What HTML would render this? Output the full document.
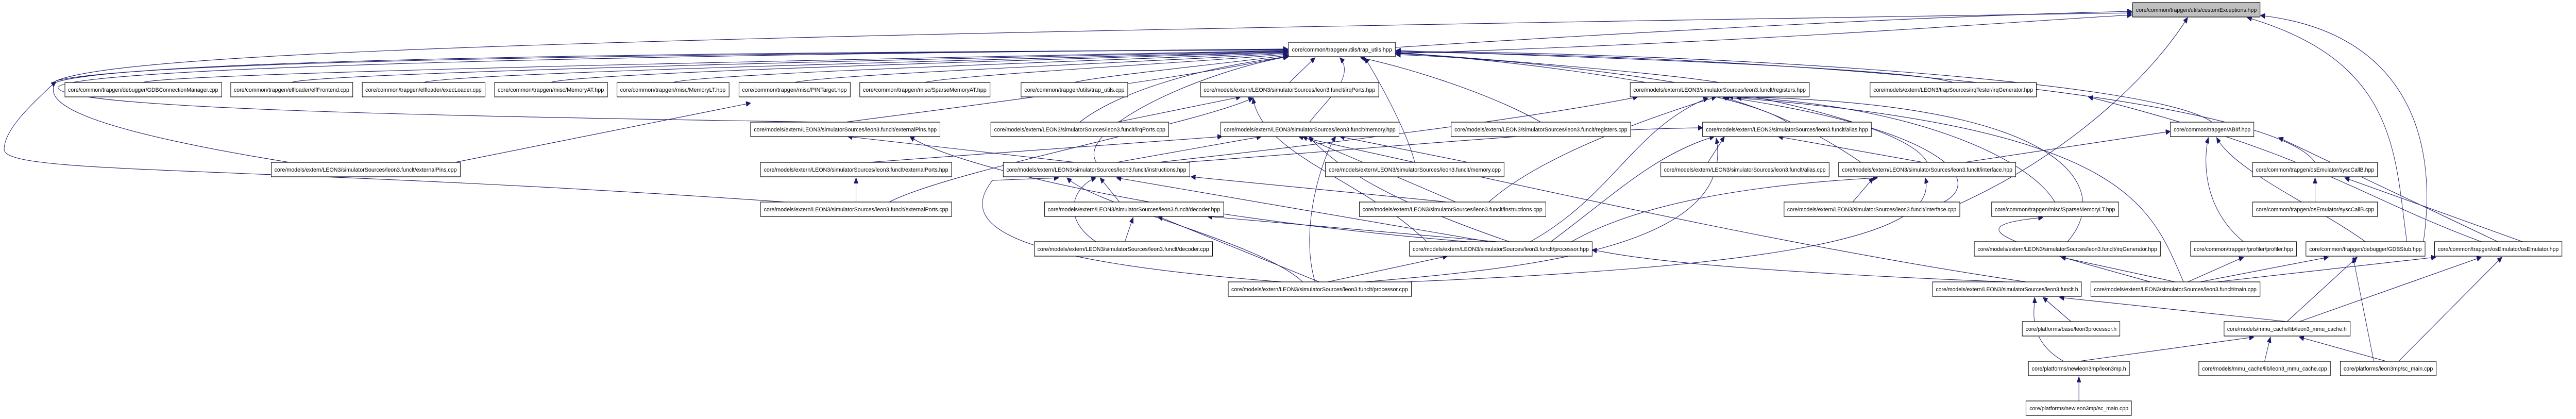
<!DOCTYPE html>
<html><head><meta charset="utf-8"><style>
html,body{margin:0;padding:0;background:#fff;width:100%;height:100%;overflow:hidden;}
svg{display:block;width:100vw;height:100vh;}
.n rect{fill:#fff;stroke:#000;stroke-width:1.2;}
.n text{font-family:"Liberation Sans",sans-serif;font-size:11px;fill:#000;}
.e path{fill:none;stroke:#191970;stroke-width:1.1;}
</style></head><body>
<svg viewBox="0 0 6229 813" preserveAspectRatio="none" xmlns="http://www.w3.org/2000/svg">
<defs>
<marker id="a" markerUnits="userSpaceOnUse" markerWidth="12" markerHeight="10" refX="11" refY="5" orient="auto"><path d="M0,0 L11,5 L0,10 z" fill="#191970" stroke="#191970"/></marker>
</defs>
<g class="e" marker-end="url(#a)">
<path d="M3374,92 C4000,60 4700,30 5155,22"/>
<path d="M135,157 C300,100 1500,70 5155,25"/>
<path d="M3374,104 C4300,80 4900,40 5155,29"/>
<path d="M4739,395 C5000,300 5200,150 5290,34"/>
<path d="M5820,469 C5790,300 5800,120 5434,34"/>
<path d="M5860,469 C5900,250 5800,60 5466,30"/>
<path d="M346,160 C400,140 2400,110 3114,98"/>
<path d="M705,160 C760,140 2500,110 3114,99"/>
<path d="M1024,160 C1100,140 2600,112 3114,100"/>
<path d="M1332,160 C1400,140 2700,112 3114,101"/>
<path d="M1627,160 C1700,142 2800,114 3114,102"/>
<path d="M1921,160 C2000,144 2900,116 3114,103"/>
<path d="M2236,160 C2300,146 2950,118 3114,105"/>
<path d="M2598,160 C2650,148 3000,120 3116,107"/>
<path d="M3118,160 L3180,112"/>
<path d="M4158,160 C4000,140 3600,115 3376,102"/>
<path d="M4723,160 C4600,130 3800,110 3376,98"/>
<path d="M135,157 C300,120 1500,105 3114,96"/>
<path d="M700,315 C200,250 100,200 135,160 C300,110 2000,100 3114,97"/>
<path d="M1900,392 C600,320 10,340 10,290 C10,250 80,200 135,158"/>
<path d="M2000,237 C1000,225 150,210 140,170 C150,140 1000,110 3114,95"/>
<path d="M2044,237 C2200,220 2900,150 3114,108"/>
<path d="M2611,237 C2700,180 2900,130 3116,110"/>
<path d="M2700,237 L3000,188"/>
<path d="M3167,237 C3200,200 3280,150 3240,112"/>
<path d="M3726,237 C3600,180 3400,130 3290,112"/>
<path d="M4321,237 C4200,170 3600,110 3376,104"/>
<path d="M5349,237 C5200,150 4000,100 3376,100"/>
<path d="M2651,315 C2600,250 2900,140 3114,110"/>
<path d="M3421,315 C3400,250 3330,150 3300,112"/>
<path d="M4660,315 C4600,220 3900,120 3376,106"/>
<path d="M5598,315 C5500,200 4500,110 3376,101"/>
<path d="M1100,315 L1815,200"/>
<path d="M2070,392 L2070,345"/>
<path d="M2100,315 L2955,265"/>
<path d="M2600,315 L2050,265"/>
<path d="M2700,315 L3050,265"/>
<path d="M2860,315 C3300,290 3800,250 4117,248"/>
<path d="M2800,315 C3200,280 3700,230 3960,188"/>
<path d="M3550,315 L3240,265"/>
<path d="M4130,315 L4170,265"/>
<path d="M4650,315 L4300,265"/>
<path d="M4750,315 L5248,255"/>
<path d="M4500,315 C4400,260 4300,220 4165,188"/>
<path d="M2707,392 L2660,345"/>
<path d="M3500,392 L2880,343"/>
<path d="M3520,392 L3150,265"/>
<path d="M3600,392 C3700,320 3900,250 4150,188"/>
<path d="M4480,392 L4530,345"/>
<path d="M4700,392 C4800,350 4700,250 4170,188"/>
<path d="M4969,392 C4900,300 4600,200 4180,188"/>
<path d="M5598,392 L5598,345"/>
<path d="M2150,392 C2300,330 2900,240 3030,190"/>
<path d="M2720,469 L2740,422"/>
<path d="M2650,469 C2560,420 2600,360 2650,345"/>
<path d="M3600,469 L2700,345"/>
<path d="M3620,469 L2920,420"/>
<path d="M3650,469 C3400,400 3250,340 3165,265"/>
<path d="M3700,469 C3900,380 3950,250 4130,190"/>
<path d="M3750,469 C3900,380 4000,300 4145,265"/>
<path d="M3800,469 C3950,400 4200,360 4540,345"/>
<path d="M3550,469 C2800,420 2300,320 2200,265"/>
<path d="M3450,469 C3300,350 3050,300 3030,190"/>
<path d="M4999,469 C5100,380 5050,200 4200,188"/>
<path d="M5425,469 C5320,400 5330,300 5340,267"/>
<path d="M5720,469 C5600,400 5400,330 5360,267"/>
<path d="M6040,469 L5510,267"/>
<path d="M6100,469 L5670,345"/>
<path d="M6000,469 C5700,380 5600,300 5050,188"/>
<path d="M3190,547 L2800,420"/>
<path d="M3210,547 L3500,497"/>
<path d="M3150,547 C3050,470 2650,400 2580,345"/>
<path d="M3180,547 C3140,440 3200,300 3230,265"/>
<path d="M3100,547 C2500,510 2300,450 2400,350 L2560,345"/>
<path d="M3300,547 C3700,520 4200,480 4150,268"/>
<path d="M3400,547 C4200,520 4700,470 4655,345"/>
<path d="M4853,547 C4000,520 3900,490 3850,485"/>
<path d="M4900,547 C4500,500 4000,420 3140,265"/>
<path d="M5260,547 L4984,499"/>
<path d="M5290,547 L5425,499"/>
<path d="M5320,547 L5630,499"/>
<path d="M5360,547 L5890,499"/>
<path d="M5200,547 C4900,480 4700,440 4940,422"/>
<path d="M5280,547 C5200,400 5150,250 4200,190"/>
<path d="M5008,624 L4940,577"/>
<path d="M5530,624 L4980,577"/>
<path d="M5530,624 L5700,499"/>
<path d="M5560,624 L6000,499"/>
<path d="M5027,701 L5450,654"/>
<path d="M4990,701 C4900,660 4920,600 4920,577"/>
<path d="M5476,701 L5490,654"/>
<path d="M5770,701 L5560,654"/>
<path d="M5740,701 L5690,499"/>
<path d="M5800,701 L6050,499"/>
<path d="M5027,778 L5027,731"/>
</g>
<g class="n">
<rect x="5157" y="5" width="308" height="28" style="fill:#bfbfbf"/><text x="5311" y="23" text-anchor="middle" textLength="292" lengthAdjust="spacingAndGlyphs">core/common/trapgen/utils/customExceptions.hpp</text>
<rect x="3116" y="82" width="258" height="28"/><text x="3245" y="100" text-anchor="middle" textLength="242" lengthAdjust="spacingAndGlyphs">core/common/trapgen/utils/trap_utils.hpp</text>

<rect x="157" y="160" width="379" height="28"/><text x="346" y="178" text-anchor="middle" textLength="363" lengthAdjust="spacingAndGlyphs">core/common/trapgen/debugger/GDBConnectionManager.cpp</text>
<rect x="558" y="160" width="295" height="28"/><text x="705" y="178" text-anchor="middle" textLength="279" lengthAdjust="spacingAndGlyphs">core/common/trapgen/elfloader/elfFrontend.cpp</text>
<rect x="876" y="160" width="297" height="28"/><text x="1024" y="178" text-anchor="middle" textLength="281" lengthAdjust="spacingAndGlyphs">core/common/trapgen/elfloader/execLoader.cpp</text>
<rect x="1196" y="160" width="273" height="28"/><text x="1332" y="178" text-anchor="middle" textLength="257" lengthAdjust="spacingAndGlyphs">core/common/trapgen/misc/MemoryAT.hpp</text>
<rect x="1492" y="160" width="271" height="28"/><text x="1627" y="178" text-anchor="middle" textLength="255" lengthAdjust="spacingAndGlyphs">core/common/trapgen/misc/MemoryLT.hpp</text>
<rect x="1787" y="160" width="269" height="28"/><text x="1921" y="178" text-anchor="middle" textLength="253" lengthAdjust="spacingAndGlyphs">core/common/trapgen/misc/PINTarget.hpp</text>
<rect x="2079" y="160" width="315" height="28"/><text x="2236" y="178" text-anchor="middle" textLength="299" lengthAdjust="spacingAndGlyphs">core/common/trapgen/misc/SparseMemoryAT.hpp</text>
<rect x="2469" y="160" width="258" height="28"/><text x="2598" y="178" text-anchor="middle" textLength="242" lengthAdjust="spacingAndGlyphs">core/common/trapgen/utils/trap_utils.cpp</text>
<rect x="2903" y="160" width="431" height="28"/><text x="3118" y="178" text-anchor="middle" textLength="415" lengthAdjust="spacingAndGlyphs">core/models/extern/LEON3/simulatorSources/leon3.funclt/irqPorts.hpp</text>
<rect x="3942" y="160" width="433" height="28"/><text x="4158" y="178" text-anchor="middle" textLength="417" lengthAdjust="spacingAndGlyphs">core/models/extern/LEON3/simulatorSources/leon3.funclt/registers.hpp</text>
<rect x="4522" y="160" width="402" height="28"/><text x="4723" y="178" text-anchor="middle" textLength="386" lengthAdjust="spacingAndGlyphs">core/models/extern/LEON3/trapSources/irqTester/irqGenerator.hpp</text>

<rect x="1815" y="237" width="458" height="28"/><text x="2044" y="255" text-anchor="middle" textLength="442" lengthAdjust="spacingAndGlyphs">core/models/extern/LEON3/simulatorSources/leon3.funclt/externalPins.hpp</text>
<rect x="2396" y="237" width="430" height="28"/><text x="2611" y="255" text-anchor="middle" textLength="414" lengthAdjust="spacingAndGlyphs">core/models/extern/LEON3/simulatorSources/leon3.funclt/irqPorts.cpp</text>
<rect x="2952" y="237" width="431" height="28"/><text x="3167" y="255" text-anchor="middle" textLength="415" lengthAdjust="spacingAndGlyphs">core/models/extern/LEON3/simulatorSources/leon3.funclt/memory.hpp</text>
<rect x="3509" y="237" width="434" height="28"/><text x="3726" y="255" text-anchor="middle" textLength="418" lengthAdjust="spacingAndGlyphs">core/models/extern/LEON3/simulatorSources/leon3.funclt/registers.cpp</text>
<rect x="4117" y="237" width="408" height="28"/><text x="4321" y="255" text-anchor="middle" textLength="392" lengthAdjust="spacingAndGlyphs">core/models/extern/LEON3/simulatorSources/leon3.funclt/alias.hpp</text>
<rect x="5248" y="237" width="202" height="28"/><text x="5349" y="255" text-anchor="middle" textLength="186" lengthAdjust="spacingAndGlyphs">core/common/trapgen/ABIIf.hpp</text>

<rect x="656" y="315" width="457" height="28"/><text x="884" y="333" text-anchor="middle" textLength="441" lengthAdjust="spacingAndGlyphs">core/models/extern/LEON3/simulatorSources/leon3.funclt/externalPins.cpp</text>
<rect x="1839" y="315" width="462" height="28"/><text x="2070" y="333" text-anchor="middle" textLength="446" lengthAdjust="spacingAndGlyphs">core/models/extern/LEON3/simulatorSources/leon3.funclt/externalPorts.hpp</text>
<rect x="2426" y="315" width="451" height="28"/><text x="2651" y="333" text-anchor="middle" textLength="435" lengthAdjust="spacingAndGlyphs">core/models/extern/LEON3/simulatorSources/leon3.funclt/instructions.hpp</text>
<rect x="3205" y="315" width="432" height="28"/><text x="3421" y="333" text-anchor="middle" textLength="416" lengthAdjust="spacingAndGlyphs">core/models/extern/LEON3/simulatorSources/leon3.funclt/memory.cpp</text>
<rect x="4016" y="315" width="407" height="28"/><text x="4219" y="333" text-anchor="middle" textLength="391" lengthAdjust="spacingAndGlyphs">core/models/extern/LEON3/simulatorSources/leon3.funclt/alias.cpp</text>
<rect x="4446" y="315" width="428" height="28"/><text x="4660" y="333" text-anchor="middle" textLength="412" lengthAdjust="spacingAndGlyphs">core/models/extern/LEON3/simulatorSources/leon3.funclt/interface.hpp</text>
<rect x="5447" y="315" width="302" height="28"/><text x="5598" y="333" text-anchor="middle" textLength="286" lengthAdjust="spacingAndGlyphs">core/common/trapgen/osEmulator/syscCallB.hpp</text>

<rect x="1839" y="392" width="462" height="28"/><text x="2070" y="410" text-anchor="middle" textLength="446" lengthAdjust="spacingAndGlyphs">core/models/extern/LEON3/simulatorSources/leon3.funclt/externalPorts.cpp</text>
<rect x="2526" y="392" width="433" height="28"/><text x="2742" y="410" text-anchor="middle" textLength="417" lengthAdjust="spacingAndGlyphs">core/models/extern/LEON3/simulatorSources/leon3.funclt/decoder.hpp</text>
<rect x="3287" y="392" width="451" height="28"/><text x="3512" y="410" text-anchor="middle" textLength="435" lengthAdjust="spacingAndGlyphs">core/models/extern/LEON3/simulatorSources/leon3.funclt/instructions.cpp</text>
<rect x="4314" y="392" width="425" height="28"/><text x="4526" y="410" text-anchor="middle" textLength="409" lengthAdjust="spacingAndGlyphs">core/models/extern/LEON3/simulatorSources/leon3.funclt/interface.cpp</text>
<rect x="4816" y="392" width="307" height="28"/><text x="4969" y="410" text-anchor="middle" textLength="291" lengthAdjust="spacingAndGlyphs">core/common/trapgen/misc/SparseMemoryLT.hpp</text>
<rect x="5447" y="392" width="302" height="28"/><text x="5598" y="410" text-anchor="middle" textLength="286" lengthAdjust="spacingAndGlyphs">core/common/trapgen/osEmulator/syscCallB.cpp</text>

<rect x="2501" y="469" width="431" height="28"/><text x="2716" y="487" text-anchor="middle" textLength="415" lengthAdjust="spacingAndGlyphs">core/models/extern/LEON3/simulatorSources/leon3.funclt/decoder.cpp</text>
<rect x="3408" y="469" width="442" height="28"/><text x="3629" y="487" text-anchor="middle" textLength="426" lengthAdjust="spacingAndGlyphs">core/models/extern/LEON3/simulatorSources/leon3.funclt/processor.hpp</text>
<rect x="4774" y="469" width="450" height="28"/><text x="4999" y="487" text-anchor="middle" textLength="434" lengthAdjust="spacingAndGlyphs">core/models/extern/LEON3/simulatorSources/leon3.funclt/irqGenerator.hpp</text>
<rect x="5297" y="469" width="256" height="28"/><text x="5425" y="487" text-anchor="middle" textLength="240" lengthAdjust="spacingAndGlyphs">core/common/trapgen/profiler/profiler.hpp</text>
<rect x="5576" y="469" width="288" height="28"/><text x="5720" y="487" text-anchor="middle" textLength="272" lengthAdjust="spacingAndGlyphs">core/common/trapgen/debugger/GDBStub.hpp</text>
<rect x="5887" y="469" width="308" height="28"/><text x="6041" y="487" text-anchor="middle" textLength="292" lengthAdjust="spacingAndGlyphs">core/common/trapgen/osEmulator/osEmulator.hpp</text>

<rect x="2970" y="547" width="443" height="28"/><text x="3191" y="565" text-anchor="middle" textLength="427" lengthAdjust="spacingAndGlyphs">core/models/extern/LEON3/simulatorSources/leon3.funclt/processor.cpp</text>
<rect x="4673" y="547" width="360" height="28"/><text x="4853" y="565" text-anchor="middle" textLength="344" lengthAdjust="spacingAndGlyphs">core/models/extern/LEON3/simulatorSources/leon3.funclt.h</text>
<rect x="5056" y="547" width="409" height="28"/><text x="5260" y="565" text-anchor="middle" textLength="393" lengthAdjust="spacingAndGlyphs">core/models/extern/LEON3/simulatorSources/leon3.funclt/main.cpp</text>

<rect x="4890" y="624" width="236" height="28"/><text x="5008" y="642" text-anchor="middle" textLength="220" lengthAdjust="spacingAndGlyphs">core/platforms/base/leon3processor.h</text>
<rect x="5378" y="624" width="305" height="28"/><text x="5530" y="642" text-anchor="middle" textLength="289" lengthAdjust="spacingAndGlyphs">core/models/mmu_cache/lib/leon3_mmu_cache.h</text>

<rect x="4905" y="701" width="244" height="28"/><text x="5027" y="719" text-anchor="middle" textLength="228" lengthAdjust="spacingAndGlyphs">core/platforms/newleon3mp/leon3mp.h</text>
<rect x="5317" y="701" width="318" height="28"/><text x="5476" y="719" text-anchor="middle" textLength="302" lengthAdjust="spacingAndGlyphs">core/models/mmu_cache/lib/leon3_mmu_cache.cpp</text>
<rect x="5659" y="701" width="232" height="28"/><text x="5775" y="719" text-anchor="middle" textLength="216" lengthAdjust="spacingAndGlyphs">core/platforms/leon3mp/sc_main.cpp</text>

<rect x="4899" y="778" width="255" height="28"/><text x="5027" y="796" text-anchor="middle" textLength="239" lengthAdjust="spacingAndGlyphs">core/platforms/newleon3mp/sc_main.cpp</text>
</g>
</svg>
</body></html>
